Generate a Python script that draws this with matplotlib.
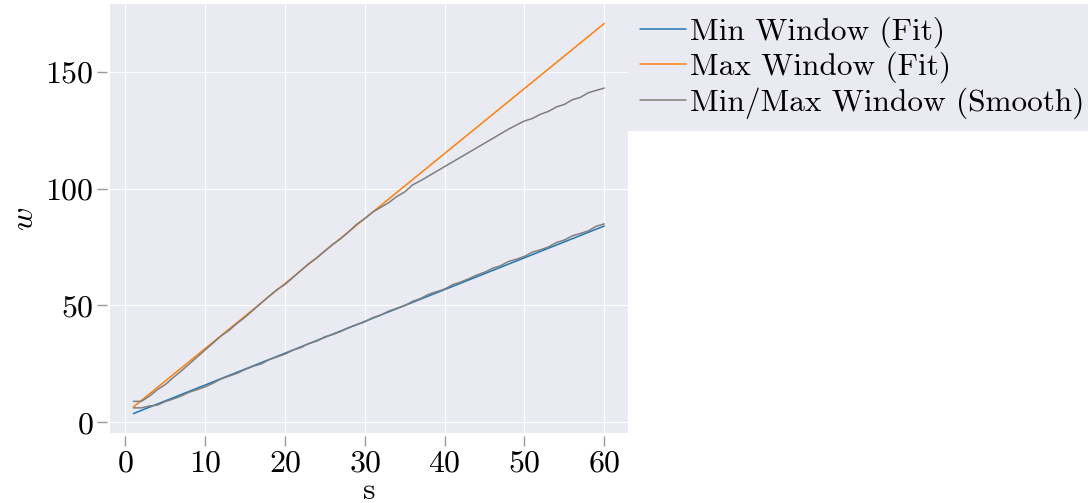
import numpy as np
import matplotlib
matplotlib.use('Agg')
import matplotlib.pyplot as plt
import seaborn as sns

# data
s = np.arange(1, 61)

# linear fits  w = a + b*s
min_fit_a, min_fit_b = 2.4, 1.36
max_fit_a, max_fit_b = 3.8, 2.78

min_smooth = [6.2, 6.2, 7.0, 7.4, 8.9, 10.0, 11.3, 12.9, 14.0, 15.2,
              16.8, 18.6, 19.8, 21.0, 22.6, 24.0, 25.0, 26.8, 28.0, 29.2,
              30.9, 32.0, 33.8, 34.8, 36.6, 37.6, 38.9, 40.6, 41.8, 43.0,
              44.8, 45.9, 47.6, 48.8, 50.0, 51.8, 53.0, 54.8, 55.9, 57.0,
              58.9, 60.0, 61.4, 63.0, 64.2, 65.9, 67.0, 68.8, 69.8, 71.0,
              72.8, 73.8, 75.0, 76.9, 78.0, 79.8, 80.8, 81.9, 83.9, 84.9]

max_smooth = [9.0, 9.0, 11.2, 14.0, 16.2, 19.2, 22.0, 25.0, 28.0, 31.0,
              34.0, 37.0, 39.4, 42.4, 45.0, 48.0, 51.0, 54.0, 56.8, 59.0,
              62.0, 65.0, 68.0, 70.4, 73.4, 76.2, 78.6, 81.6, 84.8, 87.2,
              90.0, 92.0, 94.0, 96.6, 98.6, 101.6, 103.4, 105.4, 107.4, 109.4,
              111.4, 113.4, 115.4, 117.4, 119.4, 121.4, 123.4, 125.4, 127.2, 128.9,
              130.0, 131.8, 133.0, 134.9, 136.0, 138.0, 139.0, 141.0, 142.0, 143.0]

labels = ['Min Window (Fit)', 'Max Window (Fit)', 'Min/Max Window (Smooth)']

sns.set_style('darkgrid', {'xtick.bottom': True, 'ytick.left': True})
plt.rcParams['font.family'] = 'serif'
plt.rcParams['font.serif'] = ['cmr10']
plt.rcParams['mathtext.fontset'] = 'cm'
plt.rcParams['axes.formatter.use_mathtext'] = True
plt.rcParams['axes.unicode_minus'] = False
plt.rcParams['text.color'] = 'black'
plt.rcParams['axes.labelcolor'] = 'black'
plt.rcParams['xtick.labelcolor'] = 'black'
plt.rcParams['ytick.labelcolor'] = 'black'

fig = plt.figure(figsize=(10.88, 5.03), dpi=100)
ax = fig.add_axes([0.101, 0.139, 0.476, 0.853])

ax.plot(s, min_fit_a + min_fit_b * s, color='#1f77b4', lw=1.1, label=labels[0])
ax.plot(s, max_fit_a + max_fit_b * s, color='#ff7f0e', lw=1.1, label=labels[1])
ax.plot(s, min_smooth, color='#7f7f7f', lw=1.1, label=labels[2])
ax.plot(s, max_smooth, color='#7f7f7f', lw=1.1)

ax.set_xticks([0, 10, 20, 30, 40, 50, 60])
ax.set_yticks([0, 50, 100, 150])
ax.tick_params(axis='both', labelsize=23, length=7, width=1, color='#999999', pad=3)
for sp in ax.spines.values():
    sp.set_position(('outward', 2))
    sp.set_visible(False)

ax.set_xlabel('s', fontsize=23, labelpad=0)
ax.set_ylabel('$w$', fontsize=23, labelpad=4)

leg = ax.legend(loc='upper left', bbox_to_anchor=(1.0, 1.0), borderaxespad=0,
                fontsize=22.5, handlelength=1.45, handletextpad=0.15, labelspacing=0.12,
                borderpad=0.4, frameon=True, fancybox=False, facecolor='#EAEAF2',
                edgecolor='none', framealpha=1)

fig.savefig('out.png', dpi=100)
